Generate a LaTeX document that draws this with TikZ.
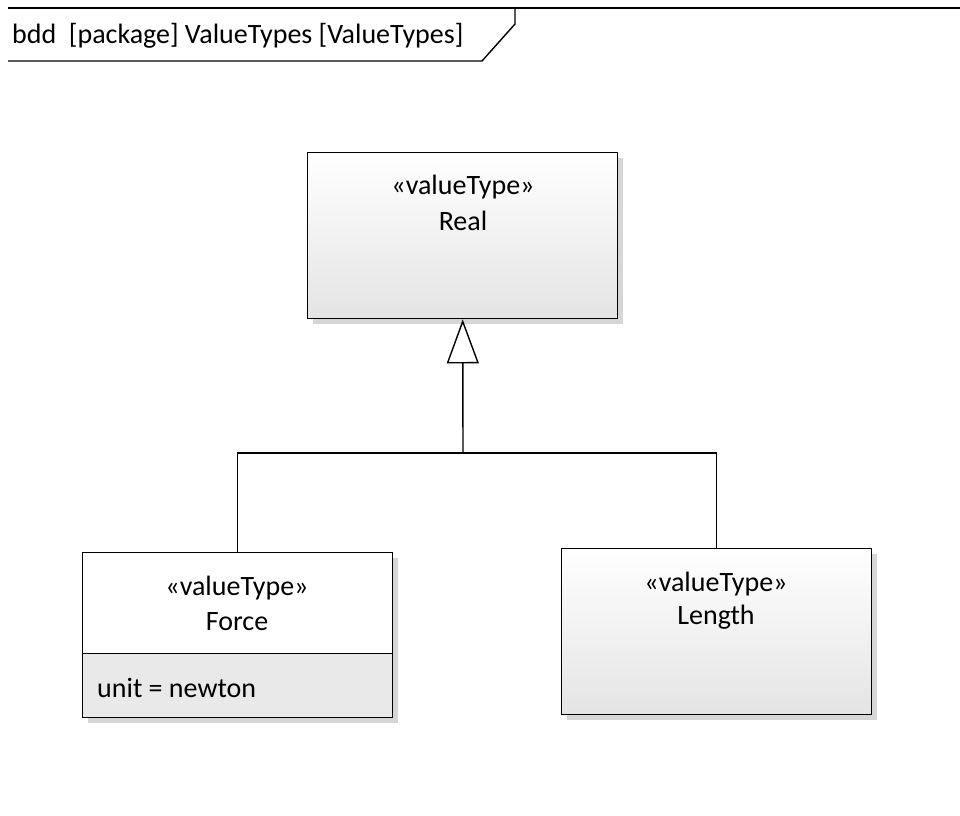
\documentclass[tikz,border=0pt]{standalone}
\usepackage{fontspec}
\setmainfont{Carlito}
\definecolor{boxgray}{HTML}{E4E4E4}
\definecolor{attrgray}{HTML}{E9E9E9}
\definecolor{shadowgray}{HTML}{D6D6D6}
\usetikzlibrary{arrows.meta,positioning,shadows}
\tikzset{
  blockbox/.style={draw=black,line width=1.4pt,minimum width=310pt,minimum height=166pt,
    anchor=north west,inner sep=0pt,top color=white,bottom color=boxgray,
    drop shadow={shadow xshift=5pt,shadow yshift=-5pt,fill=shadowgray,opacity=1}},
  stereo/.style={font=\fontsize{28}{32}\selectfont,inner sep=0pt,anchor=base},
  gen/.style={-{Triangle[open,length=44pt,width=32pt,line width=1.4pt]},line width=1.4pt},
}
\begin{document}
\begin{tikzpicture}[x=1pt,y=-1pt]
\useasboundingbox (0,0) rectangle (960,815);
% diagram frame with its name tab
\draw[line width=1.4pt] (8,8) -- (960,8);
\draw[line width=1.4pt] (515,8) -- (515,24) -- (482,61) -- (8,61);
\node[stereo,anchor=base west] (title) at (12,43) {bdd\ \ [package] ValueTypes [ValueTypes]};

% value types
\node[blockbox] (real) at (307,152) {};
\node[stereo] (realst) at (463,194) {«valueType»};
\node[stereo] (realnm) at (463,230) {Real};

\node[blockbox,minimum height=165pt,top color=white,bottom color=white] (force) at (82,552) {};
\node[draw=black,line width=1.4pt,fill=attrgray,minimum width=310pt,minimum height=64pt,
  anchor=south,inner sep=0pt] (forceattr) at (force.south) {};
\node[stereo] (forcest) at (237,595) {«valueType»};
\node[stereo] (forcenm) at (237,630) {Force};
\node[stereo,anchor=base west] (forceunit) at (97,697) {unit = newton};

\node[blockbox,minimum height=166pt] (length) at (561,548) {};
\node[stereo] (lengthst) at (716,591) {«valueType»};
\node[stereo] (lengthnm) at (716,624) {Length};

% generalization tree
\coordinate (join) at (463,453);
\draw[line width=1.4pt] (force.north) |- (join) -| (length.north);
\draw[gen] (join) -- (real.south);
\end{tikzpicture}
\end{document}
